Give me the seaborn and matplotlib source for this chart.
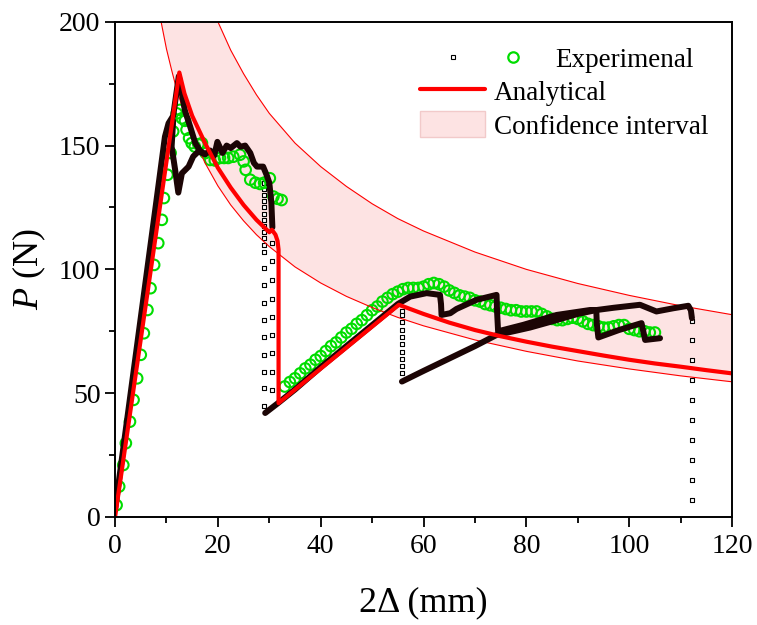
import numpy as np
import pandas as pd
import matplotlib
matplotlib.use("Agg")
import matplotlib.pyplot as plt
import seaborn as sns
from matplotlib.lines import Line2D
from matplotlib.patches import Patch
from matplotlib.legend_handler import HandlerTuple
from matplotlib.ticker import MultipleLocator

# analytical prediction
ana_x = [0, 12.5, 13.5, 15, 17.5, 20, 22.5, 25, 27.5, 30, 30.5, 31.2, 31.6, 31.8, 31.8,
         55.2, 60, 65, 70, 75, 80, 85, 90, 95, 100, 105, 110, 115, 120]
ana_P = [0, 179.5, 171, 162, 151, 141, 133, 126, 120, 115, 116, 114, 111.5, 108, 46,
         85.7, 82, 78.5, 75.5, 73, 70.8, 68.8, 67, 65.2, 63.5, 62, 60.7, 59.3, 58]

# confidence interval bounds
band_x = [8, 9, 10, 11, 12, 13.5, 15, 17.5, 20, 22.5, 25, 27.5, 30, 35, 40, 45, 50, 55,
          60, 70, 80, 90, 100, 110, 120]
band_hi = [316, 298, 283, 270, 258, 243, 231, 214, 200, 188.5, 179, 170.5, 163, 151, 141.5,
           133.5, 126.5, 120.5, 115.5, 107, 100, 94.3, 89.5, 85.3, 81.7]
band_lo = [211.5, 199.5, 189, 180.5, 172.5, 162.8, 154.5, 143, 133.7, 126, 119.6, 114, 109.2,
           101, 94.5, 89.1, 84.6, 80.6, 77.2, 71.5, 66.9, 63, 59.8, 57, 54.6]

# experimental (black squares, dense parts drawn as traces)
trace0_x = [0, 2, 4, 6, 8, 9.7, 10.4, 11.3, 12.4, 13.0, 13.6, 14.6, 15.6, 16.5, 17.5, 18.5,
            19.3, 19.9, 20.9, 21.7, 22.5, 23.7, 24.4, 25.3, 26.3, 27.0, 27.6, 28.8, 29.5,
            30.0, 30.4, 30.6]
trace0_P = [3, 34, 65, 96, 127, 153.6, 159, 162, 178, 171, 164, 157.7, 151, 148, 146.5, 148,
            146, 151.5, 147, 150, 149, 151, 149.5, 150, 147, 143, 141.5, 141.5, 138,
            135, 127, 117]
trace1_x = [11.3, 11.0, 11.7, 12.3, 13.0, 14.3, 15.2, 16.2, 17.5]
trace1_P = [160, 149.6, 140, 131, 138.8, 141.5, 145.6, 147.6, 146.5]
trace2_x = [29.2, 31.7, 35, 40, 45, 50, 55, 57.4, 60.6, 63.2, 63.4, 63.5, 65.2, 66.4, 70.3,
            74.2, 74.3, 74.5, 79.4, 85.9, 92.4, 93.6, 93.7, 94.0, 98.0, 102.4, 103.1, 106.0]
trace2_P = [42, 46, 51.5, 60.5, 69, 77.5, 86, 89, 90.4, 89.7, 86, 81.6, 82.3, 84, 87.7,
            89.7, 83, 75, 77.6, 81.6, 83.6, 83.6, 78, 72.5, 75.5, 78.3, 71.5, 72.2]
trace3_x = [55.8, 60, 65, 70, 74.2, 77.5, 80.7, 85, 90, 93.7, 97, 102.1, 105.3, 108.6,
            111.5, 112.0, 112.2]
trace3_P = [54.7, 59, 64, 69, 73.5, 75, 76.5, 79, 82, 83.6, 84.5, 85.7, 83, 84.3,
            85.3, 83.5, 80.3]

# sparse squares where the load drops
drop_x = [29.0, 30.5, 55.8, 112.3]
drop_P = [
    [135, 132.5, 130, 127.5, 125, 122.5, 120, 117.5, 115, 112.5, 110, 107, 100.5, 93.5,
     86.5, 79.5, 72.5, 65.5, 58.5, 52, 45],
    [110.6, 103.2, 95.8, 88.1, 80.7, 73.3, 66.1, 58.7, 51.3],
    [83, 81.6, 78.6, 75.6, 72.6, 69.8, 66.8, 63.8, 61, 58.1],
    [79.3, 71.5, 63.4, 55.4, 47.3, 39.2, 31.1, 23, 15, 6.9],
]

# experimental (green circles)
green_x = [0.3, 0.8, 1.6, 2.1, 2.9, 3.6, 4.3, 5.0, 5.6, 6.3, 6.9, 7.6, 8.4, 9.1, 9.5, 10.2,
           10.8, 11.3, 12.0, 12.6, 13.0, 13.6, 13.9, 14.4, 14.9, 15.5, 16.2, 16.9, 17.6,
           18.5, 19.4, 20.4, 21.2, 22.0, 23.0, 24.3, 25.0, 25.4, 26.3, 27.3, 28.2, 29.0,
           30.1, 30.8, 31.6, 32.4,
           33, 34, 35, 36, 37, 38, 39, 40, 41, 42, 43, 44, 45, 46, 47, 48, 49, 50, 51, 52,
           53, 54, 55, 56, 57, 58, 59, 60, 61, 62, 63, 64, 65, 66, 67, 68, 69, 70, 71, 72,
           73, 74, 75, 76, 77, 78, 79, 80, 81, 82, 83, 84, 85, 86, 87, 88, 89, 90, 91, 92,
           93, 94, 95, 96, 97, 98, 99, 100, 101, 102, 103, 104, 105]
green_P = [4.8, 12.3, 21, 29.8, 38.5, 47.3, 56, 65.5, 74.2, 83.6, 92.4, 101.8, 110.6, 120,
           128.8, 138.2, 147, 155.7, 163, 164.4, 161, 160, 156.4, 153, 151, 149.6, 150.5,
           151, 147, 144.2, 144, 145, 145, 145, 145.5, 146.3, 143.6, 140.2, 136.2, 135,
           134.5, 135, 136.8, 129.4, 128.5, 128,
           52.7, 54.5, 56, 58, 60, 61.5, 63.5, 65, 67, 69, 70.5, 72.5, 74.5, 76, 78, 79.5,
           81.5, 83.5, 85, 87, 88.5, 90, 91, 92, 92.5, 92.5, 92.5, 93, 94, 94.5, 94, 93,
           91.5, 90.5, 89.5, 89, 88.5, 87.5, 87, 86, 85.5, 85, 84.5, 84, 83.5, 83.5, 83,
           83, 83, 83, 82, 81, 80, 79.5, 79.5, 80, 80.5, 80, 79, 78, 77.5, 77, 76.5, 76.5,
           77, 77.5, 77.5, 76, 75.5, 75, 75, 74.5, 74.5]

sns.set_theme(style="ticks", rc={"axes.edgecolor": "black", "xtick.color": "black",
                                 "ytick.color": "black", "text.color": "black",
                                 "axes.labelcolor": "black"})
plt.rcParams["font.family"] = ["Liberation Serif", "DejaVu Serif"]
plt.rcParams["mathtext.fontset"] = "custom"
plt.rcParams["mathtext.rm"] = "Liberation Serif"
plt.rcParams["mathtext.it"] = "Liberation Serif:italic"

traces = pd.concat([
    pd.DataFrame({"x": tx, "P": tp, "seg": i})
    for i, (tx, tp) in enumerate([(trace0_x, trace0_P), (trace1_x, trace1_P),
                                  (trace2_x, trace2_P), (trace3_x, trace3_P)])
])
drops = pd.concat([pd.DataFrame({"x": [dx] * len(dp), "P": dp}) for dx, dp in zip(drop_x, drop_P)])
band = pd.DataFrame({"x": band_x, "hi": band_hi, "lo": band_lo})
ana = pd.DataFrame({"x": ana_x, "P": ana_P})
green = pd.DataFrame({"x": green_x, "P": green_P})

fig = plt.figure(figsize=(7.57, 6.25), dpi=100)
ax = fig.add_axes([0.152, 0.1728, 0.815, 0.7924])

ax.fill_between(band["x"], band["lo"], band["hi"], color="#fde3e3", lw=0)
sns.lineplot(data=band, x="x", y="hi", color="red", lw=0.8, ax=ax)
sns.lineplot(data=band, x="x", y="lo", color="red", lw=0.8, ax=ax)

sns.lineplot(data=traces, x="x", y="P", units="seg", estimator=None, sort=False,
             color="#1c0505", lw=4.3, ax=ax, legend=False)
sns.scatterplot(data=drops, x="x", y="P", marker="s", s=10, color="black",
                facecolor="white", edgecolor="black", linewidth=0.8, ax=ax, legend=False)
sns.scatterplot(data=green, x="x", y="P", marker="o", s=58, color="#00dd00",
                facecolor="none", edgecolor="#00dd00", linewidth=1.5, ax=ax, legend=False)
sns.lineplot(data=ana, x="x", y="P", sort=False, estimator=None, color="red", lw=3, ax=ax)

ax.set_xlim(0, 120)
ax.set_ylim(0, 200)
ax.xaxis.set_major_locator(MultipleLocator(20))
ax.xaxis.set_minor_locator(MultipleLocator(10))
ax.yaxis.set_major_locator(MultipleLocator(50))
ax.yaxis.set_minor_locator(MultipleLocator(25))
ax.tick_params(which="major", direction="out", length=7, width=1.3, labelsize=20)
ax.tick_params(axis="x", which="major", pad=5)
ax.tick_params(axis="y", which="major", pad=3.5)
ax.tick_params(which="minor", direction="out", length=4, width=1.3)
for sp in ax.spines.values():
    sp.set_linewidth(1.4)
    sp.set_color("black")

ax.set_xlabel("2Δ (mm)", fontsize=26, labelpad=20)
ax.set_ylabel("$P$ (N)", fontsize=26, labelpad=8)

h_sq = Line2D([], [], ls="none", marker="s", ms=3, mfc="white", mec="black", mew=0.8)
h_gc = Line2D([], [], ls="none", marker="o", ms=7.5, mfc="none", mec="#00dd00", mew=1.6)
leg1 = ax.legend([(h_sq, h_gc)], ["Experimenal"],
                 handler_map={tuple: HandlerTuple(ndivide=None, pad=1.107)},
                 loc="upper left", bbox_to_anchor=(0.5235, 0.9475), frameon=False,
                 fontsize=19.5, handlelength=3.32, handletextpad=1.0, borderpad=0,
                 borderaxespad=0)
ax.add_artist(leg1)
h_an = Line2D([], [], color="red", lw=3)
h_ci = Patch(facecolor="#fde3e3", edgecolor="#f2caca")
ax.legend([h_an, h_ci], ["Analytical", "Confidence interval"], loc="upper left",
          bbox_to_anchor=(0.495, 0.887), frameon=False, fontsize=19.5, handlelength=2.4,
          handleheight=1.1, handletextpad=0.3, labelspacing=0.2, borderpad=0,
          borderaxespad=0)

fig.savefig("out.png", dpi=100)
